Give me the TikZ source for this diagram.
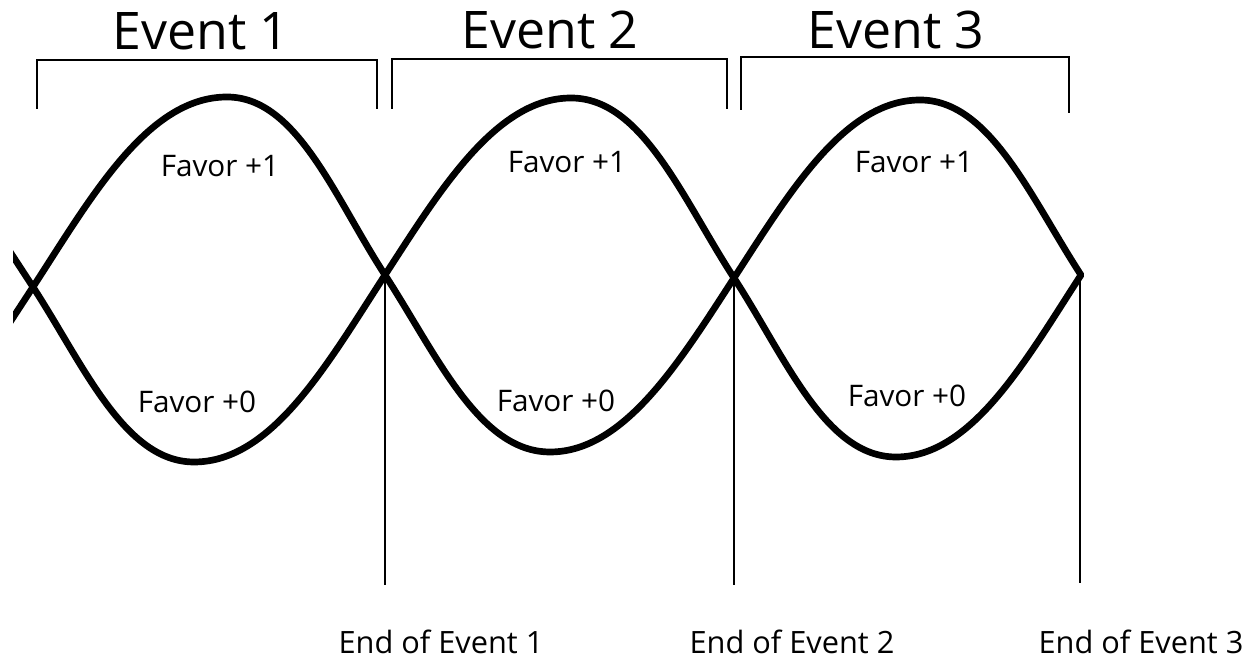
\documentclass[tikz,border=0pt]{standalone}
\usepackage{fontspec}
\setmainfont{Open Sans}
\usetikzlibrary{calc}

\begin{document}
\begin{tikzpicture}[
			x=0.02cm,y=0.02cm,
			wave/.style={line width=3.8pt,line join=bevel},
			up/.style={out=#1,in=180,in looseness=0.75},
			dn/.style={out=#1,in=0,in looseness=0.75},
			thinline/.style={line width=0.8pt},
			evtitle/.style={anchor=base,font=\fontsize{29.5}{32}\selectfont},
			favor/.style={anchor=base,font=\fontsize{16.9}{18}\selectfont},
			endlbl/.style={anchor=base,font=\fontsize{17.5}{20}\selectfont}
			]
			\useasboundingbox (0,0) rectangle (1252,661);
			% crossings, peaks and troughs of the two waves
			\coordinate (c0) at (33,374);
			\coordinate (c1) at (385,386);
			\coordinate (c2) at (734,383);
			\coordinate (c3) at (1081,386);
			\coordinate (p1) at (227,564);
			\coordinate (p2) at (571,563);
			\coordinate (p3) at (920,561);
			\coordinate (t1) at (194,199);
			\coordinate (t2) at (550,209);
			\coordinate (t3) at (896,204);
			\coordinate (l0) at ($(c0)+(-45,-69)$);
			\coordinate (l1) at ($(c0)+(-45,69)$);
			\begin{scope}
				\clip (13,0) rectangle (1252,661);
				\draw[wave] (l0) -- (c0) to[up=57] (p1) to[out=0,in=123,out looseness=0.75] (c1)
					to[dn=-57,in=180] (t2) to[out=0,in=-123,out looseness=0.75] (c2)
					to[up=57] (p3) to[out=0,in=123,out looseness=0.75] (c3)
					to[dn=-123] (t3) to[out=180,in=-57,out looseness=0.75] (c2)
					to[dn=123] (p2) to[out=180,in=57,out looseness=0.75] (c1)
					to[dn=-123] (t1) to[out=180,in=-57,out looseness=0.75] (c0) -- (l1);
			\end{scope}
			% brackets over the events
			\draw[thinline] (37,552) |- (377,601) -- (377,552);
			\draw[thinline] (392,552) |- (727,602) -- (727,552);
			\draw[thinline] (741,551) |- (1069,604) -- (1069,548);
			\node[evtitle] (ev1) at (201,611) {Event 1};
			\node[evtitle] (ev2) at (550,612) {Event 2};
			\node[evtitle] (ev3) at (896,612) {Event 3};
			% labels inside the waves
			\node[favor] (f11) at (220,484) {Favor +1};
			\node[favor] (f21) at (567,488) {Favor +1};
			\node[favor] (f31) at (914,488) {Favor +1};
			\node[favor] (f10) at (197,248) {Favor +0};
			\node[favor] (f20) at (556,249) {Favor +0};
			\node[favor] (f30) at (907,254) {Favor +0};
			% end markers
			\coordinate (b1) at (385,76);
			\coordinate (b2) at (734,76);
			\coordinate (b3) at (1080,78);
			\draw[thinline] (c1) -- (b1);
			\draw[thinline] (c2) -- (b2);
			\draw[thinline] (c3 -| b3) -- (b3);
			\node[endlbl] (e1) at (441,7) {End of Event 1};
			\node[endlbl] (e2) at (792,7) {End of Event 2};
			\node[endlbl] (e3) at (1141,7) {End of Event 3};
		\end{tikzpicture}
\end{document}
